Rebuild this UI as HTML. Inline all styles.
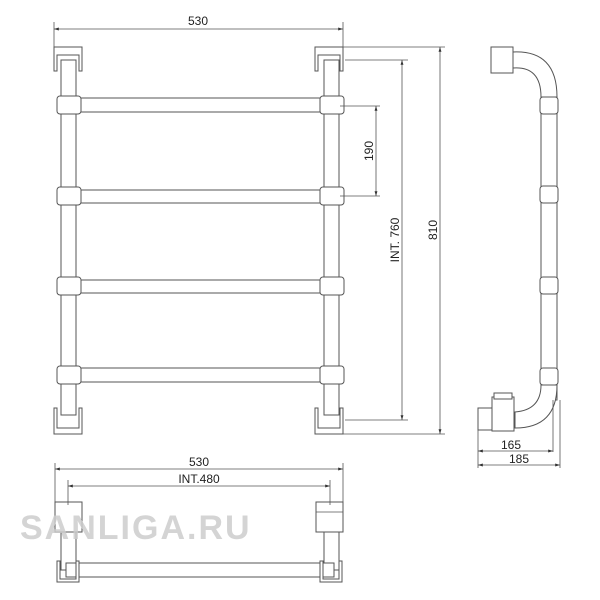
<!DOCTYPE html>
<html><head><style>body{margin:0;background:#fff}svg{display:block}</style></head><body>
<svg width="600" height="600" viewBox="0 0 600 600" xmlns="http://www.w3.org/2000/svg" font-family="Liberation Sans, sans-serif">
<defs>
<marker id="a" viewBox="0 0 10 10" refX="10" refY="5" markerWidth="6" markerHeight="6" orient="auto-start-reverse"><path d="M0,2L10,5L0,8z" fill="#333"/></marker>
</defs>
<g fill="#fff" stroke="#555" stroke-width="1">
<rect x="61" y="60" width="15" height="355"/>
<rect x="324" y="60" width="15" height="355"/>
<rect x="78" y="98" width="246" height="14"/>
<rect x="78" y="190" width="246" height="13"/>
<rect x="78" y="280" width="246" height="13"/>
<rect x="78" y="368" width="246" height="14"/>
<g>
<rect x="57" y="96" width="24" height="18" rx="3"/><rect x="320" y="96" width="24" height="18" rx="3"/>
<rect x="57" y="187" width="24" height="18" rx="3"/><rect x="320" y="187" width="24" height="18" rx="3"/>
<rect x="57" y="277" width="24" height="18" rx="3"/><rect x="320" y="277" width="24" height="18" rx="3"/>
<rect x="57" y="366" width="24" height="18" rx="3"/><rect x="320" y="366" width="24" height="18" rx="3"/>
</g>
<path d="M54,47h28v24h-3v-16h-22v16h-3z"/><path d="M315,47h28v24h-3v-16h-22v16h-3z"/>
<path d="M54,434h28v-26h-3v20h-22v-20h-3z"/><path d="M315,434h28v-26h-3v20h-22v-20h-3z"/>
<rect x="541" y="100" width="16" height="300"/>
<rect x="540" y="97" width="18" height="17" rx="3"/>
<rect x="540" y="186" width="18" height="17" rx="3"/>
<rect x="540" y="277" width="18" height="17" rx="3"/>
<rect x="540" y="368" width="18" height="17" rx="3"/>
<path d="M513,52 Q557,50 557,97 L541,97 Q541,66 513,68z"/>
<rect x="491" y="47" width="22" height="26"/>
<path d="M541,385 Q541,410 515,412 L515,428 Q557,428 557,385z"/>
<rect x="492" y="397" width="22" height="34"/>
<rect x="494" y="393" width="18" height="6"/>
<rect x="478" y="408" width="14" height="22"/>
<rect x="61" y="530" width="15" height="40"/><rect x="324" y="530" width="15" height="40"/>
<rect x="66" y="563" width="268" height="14"/>
<rect x="55" y="502" width="27" height="30"/><rect x="316" y="502" width="27" height="30"/>
<path d="M57,561v21h22v-21h-3v18h-16v-18z"/><path d="M320,561v21h22v-21h-3v18h-16v-18z"/>
</g>
<g stroke="#555" stroke-width="0.8" fill="none">
<line x1="316" y1="512" x2="343" y2="512"/>
<line x1="54" y1="22" x2="54" y2="47"/><line x1="343" y1="22" x2="343" y2="47"/>
<line x1="54" y1="29" x2="343" y2="29" marker-start="url(#a)" marker-end="url(#a)"/>
<line x1="343" y1="47" x2="445" y2="47"/><line x1="345" y1="60" x2="408" y2="60"/>
<line x1="340" y1="106" x2="380" y2="106"/><line x1="340" y1="196" x2="380" y2="196"/>
<line x1="345" y1="420" x2="408" y2="420"/><line x1="343" y1="434" x2="445" y2="434"/>
<line x1="376" y1="106" x2="376" y2="196" marker-start="url(#a)" marker-end="url(#a)"/>
<line x1="402" y1="60" x2="402" y2="420" marker-start="url(#a)" marker-end="url(#a)"/>
<line x1="440" y1="47" x2="440" y2="434" marker-start="url(#a)" marker-end="url(#a)"/>
<line x1="478" y1="430" x2="478" y2="468"/><line x1="553" y1="400" x2="553" y2="452"/><line x1="560" y1="400" x2="560" y2="468"/>
<line x1="478" y1="451" x2="553" y2="451" marker-start="url(#a)" marker-end="url(#a)"/>
<line x1="478" y1="465" x2="560" y2="465" marker-start="url(#a)" marker-end="url(#a)"/>
<line x1="55" y1="463" x2="55" y2="502"/><line x1="343" y1="463" x2="343" y2="502"/>
<line x1="68" y1="480" x2="68" y2="505"/><line x1="330" y1="480" x2="330" y2="505"/>
<line x1="55" y1="469" x2="343" y2="469" marker-start="url(#a)" marker-end="url(#a)"/>
<line x1="68" y1="486" x2="330" y2="486" marker-start="url(#a)" marker-end="url(#a)"/>
</g>
<g fill="#222" font-size="12">
<text x="198" y="25" text-anchor="middle">530</text>
<text x="199" y="466" text-anchor="middle">530</text>
<text x="199" y="483" text-anchor="middle">INT.480</text>
<text x="511" y="449" text-anchor="middle">165</text>
<text x="519" y="463" text-anchor="middle">185</text>
<text transform="translate(373,151) rotate(-90)" text-anchor="middle">190</text>
<text transform="translate(399,240) rotate(-90)" text-anchor="middle">INT. 760</text>
<text transform="translate(437,230) rotate(-90)" text-anchor="middle">810</text>
</g>
<text x="20" y="539" font-size="34" font-weight="bold" fill="#cccccc" fill-opacity="0.85" letter-spacing="2">SANLIGA.RU</text>
</svg>
</body></html>
